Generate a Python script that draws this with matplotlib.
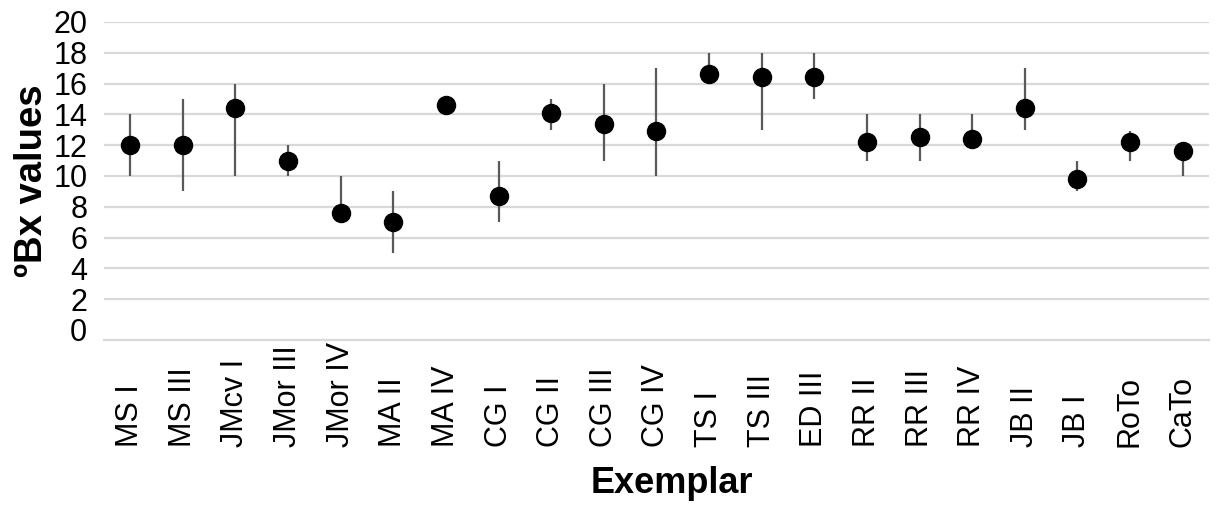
import matplotlib
matplotlib.use("Agg")
import matplotlib.pyplot as plt

plt.rcParams['font.family'] = ['Liberation Sans', 'DejaVu Sans']

exemplars = ['MS I', 'MS III', 'JMcv I', 'JMor III', 'JMor IV', 'MA II', 'MA IV',
             'CG I', 'CG II', 'CG III', 'CG IV', 'TS I', 'TS III', 'ED III',
             'RR II', 'RR III', 'RR IV', 'JB II', 'JB I', 'RoTo', 'CaTo']
bx_mean = [12.0, 12.0, 14.4, 11.0, 7.6, 7.0, 14.6,
           8.7, 14.1, 13.4, 12.9, 16.6, 16.4, 16.4,
           12.2, 12.5, 12.4, 14.4, 9.8, 12.2, 11.6]
bx_max = [14, 15, 16, 12, 10, 9, 14.6,
          11, 15, 16, 17, 18, 18, 18,
          14, 14, 14, 17, 11, 12.9, 11.6]
bx_min = [10, 9, 10, 10, 7, 5, 14,
          7, 13, 11, 10, 16, 13, 15,
          11, 11, 12.4, 13, 9, 11, 10]
y_ticks = list(range(0, 21, 2))

fig = plt.figure(figsize=(12.2, 5.22), dpi=100)
ax = fig.add_axes([0.0852, 0.3487, 0.9057, 0.6092])

x = list(range(len(exemplars)))
# min-max range lines, then the mean marker on top
ax.vlines(x, bx_min, bx_max, color='#595959', linewidth=1.6, zorder=2)
ax.plot(x, bx_mean, 'o', color='black', markersize=13, zorder=3)

ax.set_xlim(-0.5, len(exemplars) - 0.5)
ax.set_ylim(-0.65, 20)
ax.set_yticks(y_ticks)
ax.set_yticklabels([str(t) for t in y_ticks], fontsize=22)
ax.set_xticks(x)
ax.set_xticklabels(exemplars, rotation=90, fontsize=22, va='bottom')
ax.tick_params(axis='x', length=0, pad=77)
ax.tick_params(axis='y', length=0, pad=12)

ax.grid(axis='y', color='#d9d9d9', linewidth=1.6, zorder=0)
ax.set_axisbelow(True)
ax.yaxis.get_gridlines()[0].set_visible(False)
for side in ['top', 'right', 'left']:
    ax.spines[side].set_visible(False)
ax.spines['bottom'].set_color('#d9d9d9')
ax.spines['bottom'].set_linewidth(1.6)

fig.text(0.551, 0.0556, 'Exemplar', fontsize=26, fontweight='bold', ha='center', va='baseline')
fig.text(0.041, 0.653, 'ºBx values', fontsize=27.5, fontweight='bold', rotation=90,
         ha='right', va='center')

fig.savefig('out.png', dpi=100)
